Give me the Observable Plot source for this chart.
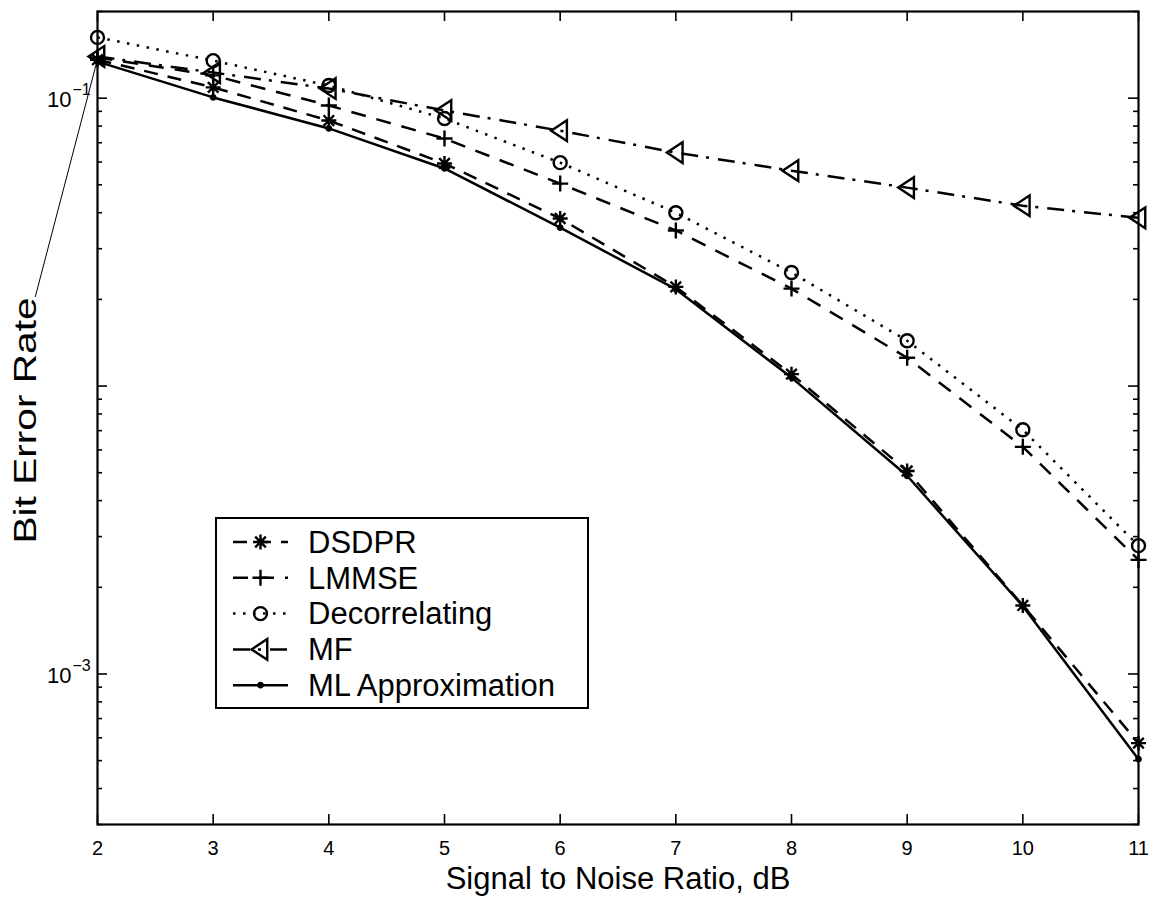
<!DOCTYPE html>
<html>
<head>
<meta charset="utf-8">
<script src="https://cdn.jsdelivr.net/npm/d3@7"></script>
<script src="https://cdn.jsdelivr.net/npm/@observablehq/plot@0.6"></script>
<style>
  body { margin: 0; background: #fff; }
  svg { display: block; }
</style>
</head>
<body>
<div id="chart"></div>
<script>
// SNR sweep (dB) and bit error rate of each multiuser detector
const snr = [2, 3, 4, 5, 6, 7, 8, 9, 10, 11];
const berDSDPR = [0.136, 0.109, 0.0836, 0.0593, 0.0382, 0.0221, 0.0110, 0.00507, 0.00173, 0.000575];
const berLMMSE = [0.1385, 0.120, 0.0943, 0.0724, 0.0505, 0.0347, 0.0218, 0.01254, 0.00615, 0.00249];
const berDecorrelating = [0.1626, 0.135, 0.1106, 0.085, 0.0597, 0.040, 0.0248, 0.01437, 0.00705, 0.00279];
const berMF = [0.1396, 0.1227, 0.108, 0.0906, 0.0771, 0.0647, 0.056, 0.0489, 0.0423, 0.0384];
const berML = [0.134, 0.1006, 0.0785, 0.057, 0.0355, 0.0217, 0.0107, 0.00488, 0.00172, 0.000506];

const seriesNames = ["DSDPR", "LMMSE", "Decorrelating", "MF", "ML Approximation"];
const seriesValues = [berDSDPR, berLMMSE, berDecorrelating, berMF, berML];

const xTicks = [2, 3, 4, 5, 6, 7, 8, 9, 10, 11];
const yLabelValues = [0.1, 0.001];
const yLabelExponents = ["\u22121", "\u22123"];
const xTitle = "Signal to Noise Ratio, dB";
const yTitle = "Bit Error Rate";

// long-format table for the marks
const rows = seriesNames.flatMap((name, i) =>
  snr.map((x, j) => ({name, snr: x, ber: seriesValues[i][j]})));

// MATLAB-like marker shapes
const asteriskSym = {draw(c, size) {
  const s = Math.sqrt(size / Math.PI), d = s * Math.SQRT1_2;
  c.moveTo(-s, 0); c.lineTo(s, 0); c.moveTo(0, -s); c.lineTo(0, s);
  c.moveTo(-d, -d); c.lineTo(d, d); c.moveTo(-d, d); c.lineTo(d, -d);
}};
const plusSym = {draw(c, size) {
  const s = Math.sqrt(size / Math.PI);
  c.moveTo(-s, 0); c.lineTo(s, 0); c.moveTo(0, -s); c.lineTo(0, s);
}};
const circleSym = {draw(c, size) {
  const s = Math.sqrt(size / Math.PI);
  c.moveTo(s, 0); c.arc(0, 0, s, 0, 2 * Math.PI); c.closePath();
}};
const triLeftSym = {draw(c, size) {
  const s = Math.sqrt(size / Math.PI);
  c.moveTo(-s, 0); c.lineTo(0.75 * s, -1.15 * s); c.lineTo(0.75 * s, 1.15 * s); c.closePath();
}};

const styles = {
  "DSDPR":            {dash: "14,10", symbol: asteriskSym, r: 7.5, fill: "none"},
  "LMMSE":            {dash: "15,11", symbol: plusSym, r: 8, fill: "none"},
  "Decorrelating":    {dash: "2.5,7.5", symbol: circleSym, r: 6.5, fill: "none"},
  "MF":               {dash: "17,8,3,9", symbol: triLeftSym, r: 9, fill: "none"},
  "ML Approximation": {dash: null, symbol: circleSym, r: 2.2, fill: "#000"}
};

const W = 1157, H = 911;
const mL = 97, mR = 19, mT = 11, mB = 87;
const plotW = W - mL - mR, plotH = H - mT - mB;

const yMajor = [1e-3, 1e-2, 1e-1];
const yMinor = [];
for (const e of [-4, -3, -2, -1]) for (let k = 2; k <= 9; k++) {
  const v = k * Math.pow(10, e);
  if (v >= 3e-4 - 1e-12 && v <= 0.2 + 1e-12) yMinor.push(v);
}

const lineMarks = seriesNames.flatMap(name => {
  const st = styles[name];
  const data = rows.filter(d => d.name === name);
  return [
    Plot.line(data, {x: "snr", y: "ber", stroke: "#000", strokeWidth: 2.5,
      strokeDasharray: st.dash, strokeLinecap: "butt"}),
    Plot.dot(data, {x: "snr", y: "ber", symbol: st.symbol, r: st.r,
      stroke: "#000", strokeWidth: 2.4, fill: st.fill})
  ];
});

// y title: starts (bottom end) below the frame middle, reads upward
const yTitleDx = -72, yTitleSize = 32, yTitleLength = 246;
const yTitleDy = yTitleLength / 2 + 2.5;

const plot = Plot.plot({
  width: W, height: H,
  marginLeft: mL, marginRight: mR, marginTop: mT, marginBottom: mB,
  style: {fontFamily: "'Liberation Sans', Arial, Helvetica, sans-serif", color: "#000", background: "#fff"},
  x: {domain: [2, 11]},
  y: {type: "log", domain: [3e-4, 0.2], axis: null},
  marks: [
    // tick marks pointing into the plot on all four sides
    Plot.tickX(xTicks, {x: d => d, insetTop: plotH - 10, strokeWidth: 1.6}),
    Plot.tickX(xTicks, {x: d => d, insetBottom: plotH - 10, strokeWidth: 1.6}),
    Plot.tickY(yMajor, {y: d => d, insetRight: plotW - 10, strokeWidth: 1.6}),
    Plot.tickY(yMajor, {y: d => d, insetLeft: plotW - 10, strokeWidth: 1.6}),
    Plot.tickY(yMinor, {y: d => d, insetRight: plotW - 5, strokeWidth: 1.6}),
    Plot.tickY(yMinor, {y: d => d, insetLeft: plotW - 5, strokeWidth: 1.6}),
    Plot.axisX(xTicks, {tickSize: 0, tickPadding: 16, fontSize: 20, label: null, tickFormat: d => String(d)}),
    // power-of-ten labels on the log axis
    Plot.text(yLabelValues, {y: d => d, frameAnchor: "left", text: () => "10",
      textAnchor: "end", dx: -26, dy: 2, fontSize: 22}),
    Plot.text(yLabelValues, {y: d => d, frameAnchor: "left", text: (d, i) => yLabelExponents[i],
      textAnchor: "start", dx: -25, dy: -8, fontSize: 16}),
    Plot.text([xTitle], {frameAnchor: "bottom", dy: 64, fontSize: 31}),
    Plot.text([yTitle], {frameAnchor: "left", dx: yTitleDx, dy: yTitleDy, rotate: -90,
      textAnchor: "start", fontSize: yTitleSize, className: "ytitle"}),
    ...lineMarks,
    Plot.frame({stroke: "#000", strokeWidth: 2.2})
  ]
});

document.getElementById("chart").append(plot);

const svg = d3.select(plot);
// stretch the y title to its printed length
svg.selectAll(".ytitle text")
  .attr("textLength", yTitleLength)
  .attr("lengthAdjust", "spacingAndGlyphs");

// leader line from the end of the y title to the first ML point
const sx = plot.scale("x"), sy = plot.scale("y");
const titleEndX = mL + yTitleDx + 0.32 * yTitleSize;
const titleEndY = mT + plotH / 2 + yTitleDy - yTitleLength;
svg.append("line")
  .attr("x1", titleEndX).attr("y1", titleEndY)
  .attr("x2", sx.apply(snr[0])).attr("y2", sy.apply(berML[0]))
  .attr("stroke", "#000").attr("stroke-width", 1);

// legend box
const leg = {x: 216, y: 518, w: 372, h: 190, row0: 542, rowStep: 35.8,
  lineX1: 233, lineX2: 288, textX: 308};
const g = svg.append("g");
g.append("rect").attr("x", leg.x).attr("y", leg.y).attr("width", leg.w).attr("height", leg.h)
  .attr("fill", "#fff").attr("stroke", "#000").attr("stroke-width", 2);
seriesNames.forEach((name, i) => {
  const st = styles[name];
  const cy = leg.row0 + i * leg.rowStep;
  g.append("line").attr("x1", leg.lineX1).attr("x2", leg.lineX2).attr("y1", cy).attr("y2", cy)
    .attr("stroke", "#000").attr("stroke-width", 2.5)
    .attr("stroke-dasharray", st.dash);
  g.append("path")
    .attr("d", d3.symbol(st.symbol, st.r * st.r * Math.PI)())
    .attr("transform", `translate(${(leg.lineX1 + leg.lineX2) / 2},${cy})`)
    .attr("fill", st.fill).attr("stroke", "#000").attr("stroke-width", 2.4);
  g.append("text").attr("x", leg.textX).attr("y", cy).attr("dy", "0.35em")
    .attr("text-anchor", "start")
    .attr("font-size", 31).attr("fill", "#000").text(name);
});
</script>
</body>
</html>
